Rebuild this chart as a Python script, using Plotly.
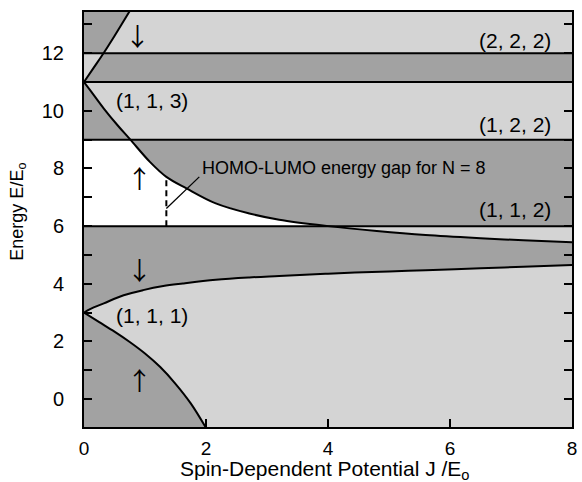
import numpy as np
import plotly.graph_objects as go

# ---- data ----
# (1,1,1) spin-up branch
J_a = [0, 0.25, 0.5, 0.75, 1.0, 1.25, 1.5, 1.75, 2.0]
E_a = [3.0, 2.67, 2.34, 1.98, 1.58, 1.11, 0.53, -0.15, -1.0]
# (1,1,1) spin-down branch
J_b = [0, 0.1, 0.325, 0.65, 0.97, 1.30, 1.62, 2.16, 2.71, 3.2, 4.0, 5.0, 5.6, 6.5, 7.2, 8.0]
E_b = [3.0, 3.12, 3.32, 3.60, 3.78, 3.92, 4.01, 4.14, 4.22, 4.27, 4.35, 4.43, 4.47, 4.54, 4.59, 4.65]
# descending branch from 11
J_c = [0, 0.1, 0.325, 0.55, 0.76, 1.08, 1.35, 1.68, 2.16, 2.71, 3.2, 4.0, 4.8, 5.6, 6.5, 7.2, 8.0]
E_c = [11.0, 10.72, 10.08, 9.5, 9.0, 8.23, 7.71, 7.31, 6.79, 6.44, 6.22, 6.0, 5.83, 5.69, 5.58, 5.51, 5.44]
# rising branch from 11
J_d = [0, 0.16, 0.32, 0.5, 0.74, 0.8]
E_d = [11.0, 11.5, 12.0, 12.6, 13.43, 13.63]
# flat levels
levels = [6, 9, 11, 12]
level_labels = ["(1, 1, 2)", "(1, 2, 2)", "(2, 2, 2)"]
level_label_E = [6.56, 9.54, 12.45]
gap_J = 1.35

x_range = [0, 8]
y_range = [-0.97, 13.43]

DARK = "#a2a2a2"
LIGHT = "#d4d4d4"
WHITE = "#ffffff"
FONT = "Arial, Liberation Sans, sans-serif"

Ja, Ea = np.array(J_a), np.array(E_a)
Jb, Eb = np.array(J_b), np.array(E_b)
Jc, Ec = np.array(J_c), np.array(E_c)
Jd, Ed = np.array(J_d), np.array(E_d)
ylo, yhi = -1.2, 13.8

fig = go.Figure()

def poly(xs, ys, color):
    fig.add_trace(go.Scatter(x=list(xs), y=list(ys), mode="lines", fill="toself",
                             fillcolor=color, line=dict(width=0), hoverinfo="skip",
                             showlegend=False))

# dark below spin-up (1,1,1)
poly(np.r_[Ja, 0], np.r_[Ea, ylo], DARK)
# dark between spin-down (1,1,1) and min(6, C)
m = Jc >= 4.0
poly(np.r_[Jb, Jc[m][::-1], 0], np.r_[Eb, Ec[m][::-1], 6], DARK)
# dark between C and 9 (6..9 band)
m1 = (Jc >= 0.76) & (Jc <= 4.0)
poly(np.r_[Jc[m1], 8, 8], np.r_[Ec[m1], 6, 9], DARK)
# white HOMO-LUMO gap region
poly(np.r_[0, 0, Jc[m1]], np.r_[6, 9, Ec[m1]], WHITE)
# dark between 9 and C (9..11 band)
m2 = Jc <= 0.76
poly(np.r_[Jc[m2], 0], np.r_[Ec[m2], 9], DARK)
# dark in 11..12 band right of D
m3 = Jd <= 0.32
poly(np.r_[Jd[m3], 8, 8], np.r_[Ed[m3], 12, 11], DARK)
# dark above 12 left of D
m4 = Jd >= 0.32
poly(np.r_[Jd[m4], 0, 0], np.r_[Ed[m4], yhi, 12], DARK)

line = dict(color="black", width=2)
for lv in levels:
    fig.add_trace(go.Scatter(x=x_range, y=[lv, lv], mode="lines", line=line,
                             hoverinfo="skip", showlegend=False))
for xs, ys in [(Ja, Ea), (Jb, Eb), (Jc, Ec), (Jd, Ed)]:
    fig.add_trace(go.Scatter(x=xs, y=ys, mode="lines", line=dict(color="black", width=2),
                             line_shape="spline", hoverinfo="skip", showlegend=False))

# dashed gap marker
gap_top = float(np.interp(gap_J, Jc, Ec))
fig.add_trace(go.Scatter(x=[gap_J, gap_J], y=[6, gap_top], mode="lines",
                         line=dict(color="black", width=2, dash="6px,4px"),
                         hoverinfo="skip", showlegend=False))
# leader line
fig.add_trace(go.Scatter(x=[gap_J, 1.89], y=[6.61, 7.71], mode="lines",
                         line=dict(color="black", width=1.3),
                         hoverinfo="skip", showlegend=False))

ann = []
ann.append(dict(x=1.9, y=8.0, text="HOMO-LUMO energy gap for N = 8", xanchor="left",
                yanchor="middle", showarrow=False, font=dict(family=FONT, size=18, color="black")))
for t, e in zip(level_labels, level_label_E):
    ann.append(dict(x=7.69, y=e, text=t, xanchor="right", yanchor="middle", showarrow=False,
                    font=dict(family=FONT, size=21, color="black")))
ann.append(dict(x=1.11, y=10.37, text="(1, 1, 3)", xanchor="center", yanchor="middle",
                showarrow=False, font=dict(family=FONT, size=21, color="black")))
ann.append(dict(x=1.11, y=2.91, text="(1, 1, 1)", xanchor="center", yanchor="middle",
                showarrow=False, font=dict(family=FONT, size=21, color="black")))
for (xa, ya, t) in [(0.87, 12.63, "↓"), (0.91, 7.7, "↑"), (0.91, 4.51, "↓"), (0.91, 0.69, "↑")]:
    ann.append(dict(x=xa, y=ya, text=t, xanchor="center", yanchor="middle", showarrow=False,
                    font=dict(family="Noto Sans CJK JP", size=25, color="black")))
# axis titles
ann.append(dict(xref="paper", yref="paper", x=0.494, y=-0.104,
                text="Spin-Dependent Potential J /E<sub>o</sub>", xanchor="center",
                yanchor="middle", showarrow=False, font=dict(family=FONT, size=21, color="black")))
ann.append(dict(xref="paper", yref="paper", x=-0.136, y=0.518, text="Energy E/E<sub>o</sub>",
                textangle=-90, xanchor="center", yanchor="middle", showarrow=False,
                font=dict(family=FONT, size=18, color="black")))

fig.update_layout(
    width=582, height=482,
    margin=dict(l=84, r=5, t=12, b=55),
    paper_bgcolor="white", plot_bgcolor=LIGHT,
    annotations=ann,
    showlegend=False,
)
fig.update_xaxes(range=x_range, showgrid=False, zeroline=False, showline=True,
                 linecolor="black", linewidth=2, mirror=True, ticks="inside", ticklen=8,
                 tickwidth=2, tickcolor="black", dtick=2, tick0=0,
                 tickfont=dict(family=FONT, size=19, color="black"), ticklabelstandoff=3)
fig.update_yaxes(range=y_range, showgrid=False, zeroline=False, showline=True,
                 linecolor="black", linewidth=2, mirror="ticks", ticks="inside", ticklen=8,
                 tickwidth=2, tickcolor="black", dtick=2, tick0=0,
                 minor=dict(dtick=1, tick0=0, ticks="inside", ticklen=8, tickwidth=2,
                            tickcolor="black", showgrid=False),
                 tickfont=dict(family=FONT, size=20, color="black"), ticklabelstandoff=14)

fig.write_html("out.html", config={"displayModeBar": False, "staticPlot": True},
               post_script="document.body.style.margin='0';document.body.style.overflow='hidden';")
